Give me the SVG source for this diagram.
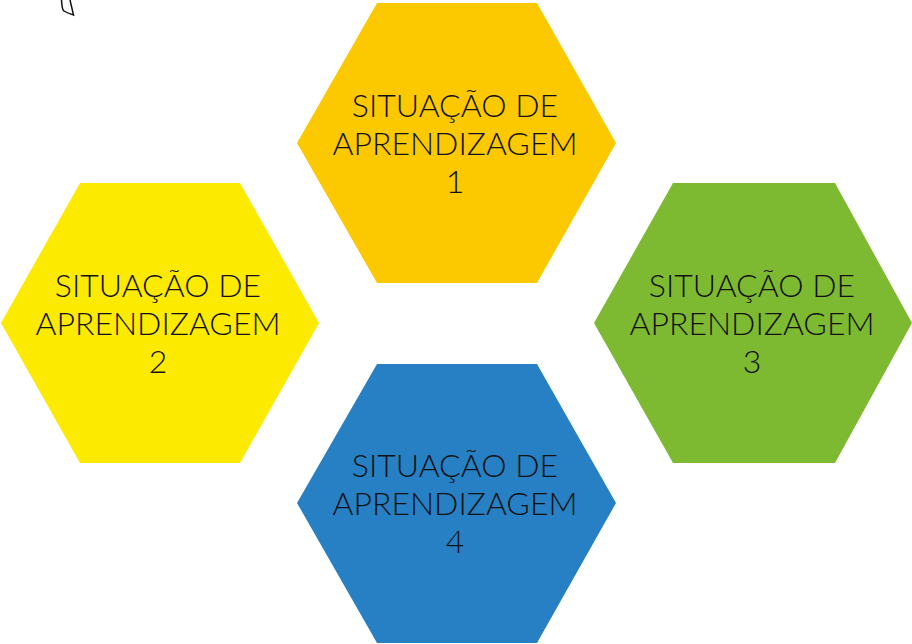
<svg xmlns="http://www.w3.org/2000/svg" width="912" height="644" viewBox="0 0 912 644">
<style>
.t{font-family:Lato,"Liberation Sans",sans-serif;font-size:32px;font-weight:300;fill:#111;text-anchor:middle}
</style>
<rect width="912" height="644" fill="#fff"/>
<path d="M61.5,0 C62,6 62,10 64,11 C67,13 71,14 73.5,15 L70,0" fill="none" stroke="#111" stroke-width="1.5"/>
<g id="node1">
<polygon points="377,3 537,3 616,143 537,283 377,283 297,143" fill="#FCC800"/>
<text class="t" x="455" y="117">SITUAÇÃO DE</text>
<text class="t" x="455" y="155">APRENDIZAGEM</text>
<text class="t" x="455" y="193">1</text>
</g>
<g id="node2">
<polygon points="80,183 240,183 319,323 240,463 80,463 1,323" fill="#FCEA00"/>
<text class="t" x="158" y="297">SITUAÇÃO DE</text>
<text class="t" x="158" y="335">APRENDIZAGEM</text>
<text class="t" x="158" y="373">2</text>
</g>
<g id="node3">
<polygon points="673,183 835,183 912,323 835,463 673,463 594,323" fill="#7DBA32"/>
<text class="t" x="752" y="297">SITUAÇÃO DE</text>
<text class="t" x="752" y="335">APRENDIZAGEM</text>
<text class="t" x="752" y="373">3</text>
</g>
<g id="node4">
<polygon points="377,364 537,364 616,503 537,643 377,643 297,503" fill="#2780C4"/>
<text class="t" x="455" y="477">SITUAÇÃO DE</text>
<text class="t" x="455" y="515">APRENDIZAGEM</text>
<text class="t" x="455" y="553">4</text>
</g>
<g id="connectors"></g>
</svg>
